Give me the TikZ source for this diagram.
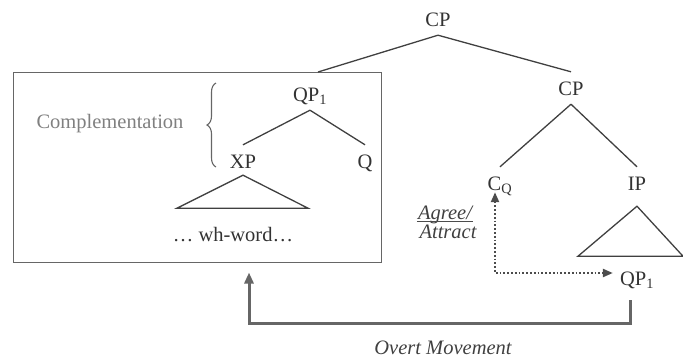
\documentclass[tikz,border=0pt]{standalone}
\usepackage{fontspec}
\setmainfont{Liberation Serif}
\usetikzlibrary{arrows.meta,decorations.pathreplacing,calc}
\begin{document}
\begin{tikzpicture}[x=1pt,y=-1pt,
  lab/.style={font=\fontsize{20.5}{24}\selectfont, text=black!80,
    inner xsep=1pt, inner ysep=9pt, text height=14pt, text depth=0pt},
  ital/.style={font=\fontsize{20.5}{24}\selectfont\itshape, text=black!75, inner sep=1pt},
  branch/.style={draw=black!75, line width=1.3pt},
  tri/.style={draw=black!75, line width=1.3pt, line join=miter},
  frame/.style={draw=black!60, line width=1pt},
  agreeline/.style={draw=black!70, line width=2.2pt, dash pattern=on 1.8pt off 2pt,
    {Triangle[length=10pt,width=8pt]}-{Triangle[length=10pt,width=8pt]}},
  moveline/.style={draw=black!60, line width=3pt, -{Triangle[length=11pt,width=9pt]}},
  bracestyle/.style={draw=black!60, line width=1.1pt,
    decorate, decoration={brace, amplitude=9pt}}
]
\useasboundingbox (0,0) rectangle (683,360);

% enclosing frame of the fronted phrase
\node[frame, minimum width=368pt, minimum height=190pt, inner sep=0pt] (box) at (197,167) {};

% matrix tree
\node[lab] (cp) at (438,19) {CP};
\coordinate (join) at (318,72);
\node[lab] (cp2) at (571,88) {CP};
\node[lab] (cq) at (500,183) {C\textsubscript{Q}};
\node[lab] (ip) at (637,183) {IP};
\node[lab] (qpl) at (637,278) {QP\textsubscript{1}};

% fronted QP
\node[lab] (qp) at (310,94) {QP\textsubscript{1}};
\node[lab] (xp) at (243,161) {XP};
\node[lab] (q) at (365,161) {Q};
\node[lab] (wh) at (233,234) {… wh-word…};
\node[lab, text=black!50] (comp) at (110,121) {Complementation};

% labels of the dependencies
\node[ital, anchor=base] (agree) at (445,219) {Agree/};
\draw[draw=black!70, line width=1pt] ([yshift=-2.5pt]agree.base west) -- ([yshift=-2.5pt]agree.base east);
\node[ital] (attract) at (448,232) {Attract};
\node[ital] (overt) at (443,348) {Overt Movement};

% branches
\draw[branch] (cp.south) -- (join);
\draw[branch] (cp.south) -- (cp2.north);
\draw[branch] (cp2.south) -- (cq.north);
\draw[branch] (cp2.south) -- (ip.north);
\draw[branch] (qp.south) -- (xp.north);
\draw[branch] (qp.south) -- (q.north);

% triangles
\draw[tri] ([yshift=2pt]xp.south) -- ++(-66,33) -- ++(131,0) -- cycle;
\draw[tri] ([yshift=-7pt]ip.south) -- ++(-59,50) -- ++(105,0) -- cycle;

% brace
\draw[bracestyle] (216,167) -- (216,83);

% Agree/Attract relation
\coordinate (corner) at (495,273);
\draw[agreeline] ([yshift=7pt]cq.south -| corner) -- (corner) -- ([xshift=-6pt]corner -| qpl.west);

% overt movement
\draw[moveline] ([xshift=-7pt,yshift=-6pt]qpl.south) -- ++(0,23) -| ([xshift=52pt,yshift=-10pt]box.south);
\end{tikzpicture}
\end{document}
